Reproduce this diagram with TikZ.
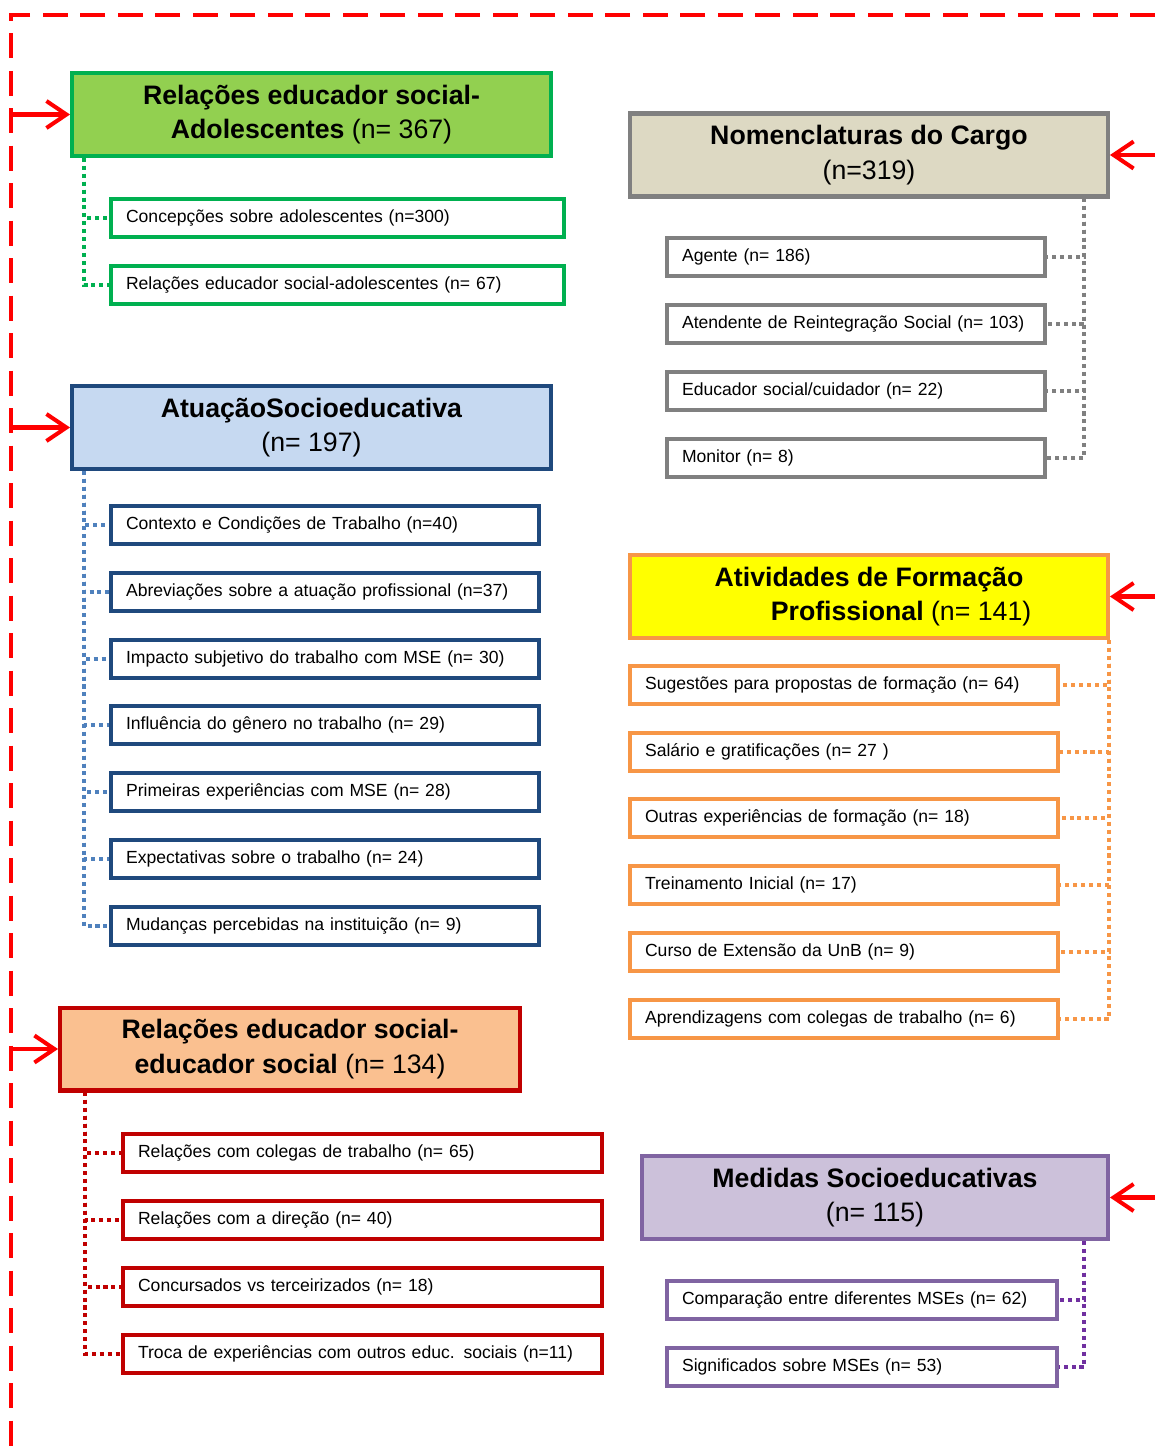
\documentclass[tikz,border=0pt]{standalone}
\usepackage{fontspec}
\setmainfont{Liberation Sans}
\usepackage{tikz}
\usetikzlibrary{arrows.meta}

\definecolor{frameRed}{HTML}{FF0000}
\definecolor{grnFill}{HTML}{92D050}
\definecolor{grnLine}{HTML}{00B050}
\definecolor{bluFill}{HTML}{C6D9F1}
\definecolor{bluLine}{HTML}{1F497D}
\definecolor{bluLink}{HTML}{4F81BD}
\definecolor{redFill}{HTML}{FAC090}
\definecolor{redLine}{HTML}{C00000}
\definecolor{gryFill}{HTML}{DDD9C3}
\definecolor{gryLine}{HTML}{808080}
\definecolor{ylwFill}{HTML}{FFFF00}
\definecolor{orgLine}{HTML}{F79646}
\definecolor{prpFill}{HTML}{CCC1DA}
\definecolor{prpLine}{HTML}{8064A2}
\definecolor{prpLink}{HTML}{7030A0}

\begin{document}
\begin{tikzpicture}[x=0.02cm, y=-0.02cm,
	head/.style n args={3}{draw=#1, fill=#2, line width=2.3pt, minimum width=#3,
		minimum height=1.66cm, inner sep=0pt, align=center,
		font=\fontsize{15.2}{19.6}\selectfont},
	sub/.style n args={2}{draw=#1, fill=white, line width=2.3pt, text width=#2,
		minimum height=0.76cm, inner sep=0pt, inner xsep=0.3cm, align=left,
		font=\fontsize{10}{12}\selectfont},
	link/.style={draw=#1, line width=2.5pt, dash pattern=on 2.3pt off 2.2pt},
	feed/.style={draw=frameRed, line width=2.3pt,
		-{Straight Barb[length=4mm, width=5.4mm]}}]
	\useasboundingbox (0,0) rectangle (1155,1450);

	% open frame round the categories
	\coordinate (fl) at (11,0);
	\coordinate (fr) at (1155,0);
	\draw[frameRed, line width=2.3pt, dash pattern=on 0.5cm off 0.25cm]
		(1155,15) -- (11,15) -- (11,1450);

	% left column
	\node[head={grnLine}{grnFill}{9.58cm}] (adol) at (311.5,114.5)
		{\textbf{Relações educador social-}\\\textbf{Adolescentes} (n= 367)};
	\node[sub={grnLine}{8.46cm}] (ad1) at (337.5,218) {Concepções sobre adolescentes (n=300)};
	\node[sub={grnLine}{8.46cm}] (ad2) at (337.5,285) {Relações educador social-adolescentes (n= 67)};

	\node[head={bluLine}{bluFill}{9.58cm}] (atua) at (311.5,427.5)
		{\textbf{AtuaçãoSocioeducativa}\\(n= 197)};
	\node[sub={bluLine}{7.96cm}] (at1) at (325,525) {Contexto e Condições de Trabalho (n=40)};
	\node[sub={bluLine}{7.96cm}] (at2) at (325,592) {Abreviações sobre a atuação profissional (n=37)};
	\node[sub={bluLine}{7.96cm}] (at3) at (325,659) {Impacto subjetivo do trabalho com MSE (n= 30)};
	\node[sub={bluLine}{7.96cm}] (at4) at (325,725) {Influência do gênero no trabalho (n= 29)};
	\node[sub={bluLine}{7.96cm}] (at5) at (325,792) {Primeiras experiências com MSE (n= 28)};
	\node[sub={bluLine}{7.96cm}] (at6) at (325,859) {Expectativas sobre o trabalho (n= 24)};
	\node[sub={bluLine}{7.96cm}] (at7) at (325,926) {Mudanças percebidas na instituição (n= 9)};

	\node[head={redLine}{redFill}{9.2cm}] (educ) at (290,1049)
		{\textbf{Relações educador social-}\\\textbf{educador social} (n= 134)};
	\node[sub={redLine}{8.98cm}] (ed1) at (362.5,1153) {Relações com colegas de trabalho (n= 65)};
	\node[sub={redLine}{8.98cm}] (ed2) at (362.5,1220) {Relações com a direção (n= 40)};
	\node[sub={redLine}{8.98cm}] (ed3) at (362.5,1287) {Concursados vs terceirizados (n= 18)};
	\node[sub={redLine}{8.98cm}] (ed4) at (362.5,1354) {Troca de experiências com outros educ. sociais (n=11)};

	% right column
	\node[head={gryLine}{gryFill}{9.56cm}] (nome) at (869,155)
		{\textbf{Nomenclaturas do Cargo}\\(n=319)};
	\node[sub={gryLine}{6.96cm}] (no1) at (856,257) {Agente (n= 186)};
	\node[sub={gryLine}{6.96cm}] (no2) at (856,324) {Atendente de Reintegração Social (n= 103)};
	\node[sub={gryLine}{6.96cm}] (no3) at (856,391) {Educador social/cuidador (n= 22)};
	\node[sub={gryLine}{6.96cm}] (no4) at (856,458) {Monitor (n= 8)};

	\node[head={orgLine}{ylwFill}{9.56cm}] (form) at (869,596.5)
		{\textbf{Atividades de Formação}\\\hspace*{2.4em}\textbf{Profissional} (n= 141)};
	\node[sub={orgLine}{7.96cm}] (fo1) at (844,685) {Sugestões para propostas de formação (n= 64)};
	\node[sub={orgLine}{7.96cm}] (fo2) at (844,752) {Salário e gratificações (n= 27 )};
	\node[sub={orgLine}{7.96cm}] (fo3) at (844,818) {Outras experiências de formação (n= 18)};
	\node[sub={orgLine}{7.96cm}] (fo4) at (844,885) {Treinamento Inicial (n= 17)};
	\node[sub={orgLine}{7.96cm}] (fo5) at (844,952) {Curso de Extensão da UnB (n= 9)};
	\node[sub={orgLine}{7.96cm}] (fo6) at (844,1019) {Aprendizagens com colegas de trabalho (n= 6)};

	\node[head={prpLine}{prpFill}{9.32cm}] (medi) at (875,1197.5)
		{\textbf{Medidas Socioeducativas}\\(n= 115)};
	\node[sub={prpLine}{7.2cm}] (me1) at (862,1300) {Comparação entre diferentes MSEs (n= 62)};
	\node[sub={prpLine}{7.2cm}] (me2) at (862,1367) {Significados sobre MSEs (n= 53)};

	% dotted links
	\coordinate (adolb) at (84,158);
	\coordinate (atuab) at (84,471);
	\coordinate (educb) at (85,1092);
	\coordinate (nomeb) at (1084,198);
	\coordinate (formb) at (1109,640);
	\coordinate (medib) at (1084,1241);
	\draw[link=grnLine] (adolb) |- (ad1.west);
	\draw[link=grnLine] (adolb) |- (ad2.west);
	\draw[link=bluLink] (atuab) |- (at1.west);
	\draw[link=bluLink] (atuab) |- (at2.west);
	\draw[link=bluLink] (atuab) |- (at3.west);
	\draw[link=bluLink] (atuab) |- (at4.west);
	\draw[link=bluLink] (atuab) |- (at5.west);
	\draw[link=bluLink] (atuab) |- (at6.west);
	\draw[link=bluLink] (atuab) |- (at7.west);
	\draw[link=redLine] (educb) |- (ed1.west);
	\draw[link=redLine] (educb) |- (ed2.west);
	\draw[link=redLine] (educb) |- (ed3.west);
	\draw[link=redLine] (educb) |- (ed4.west);
	\draw[link=gryLine] (nomeb) |- (no1.east);
	\draw[link=gryLine] (nomeb) |- (no2.east);
	\draw[link=gryLine] (nomeb) |- (no3.east);
	\draw[link=gryLine] (nomeb) |- (no4.east);
	\draw[link=orgLine] (formb) |- (fo1.east);
	\draw[link=orgLine] (formb) |- (fo2.east);
	\draw[link=orgLine] (formb) |- (fo3.east);
	\draw[link=orgLine] (formb) |- (fo4.east);
	\draw[link=orgLine] (formb) |- (fo5.east);
	\draw[link=orgLine] (formb) |- (fo6.east);
	\draw[link=prpLink] (medib) |- (me1.east);
	\draw[link=prpLink] (medib) |- (me2.east);

	% red arrows into the categories
	\draw[feed] (adol.west -| fl) -- (adol.west);
	\draw[feed] (atua.west -| fl) -- (atua.west);
	\draw[feed] (educ.west -| fl) -- (educ.west);
	\draw[feed] (nome.east -| fr) -- (nome.east);
	\draw[feed] (form.east -| fr) -- (form.east);
	\draw[feed] (medi.east -| fr) -- (medi.east);
\end{tikzpicture}
\end{document}
